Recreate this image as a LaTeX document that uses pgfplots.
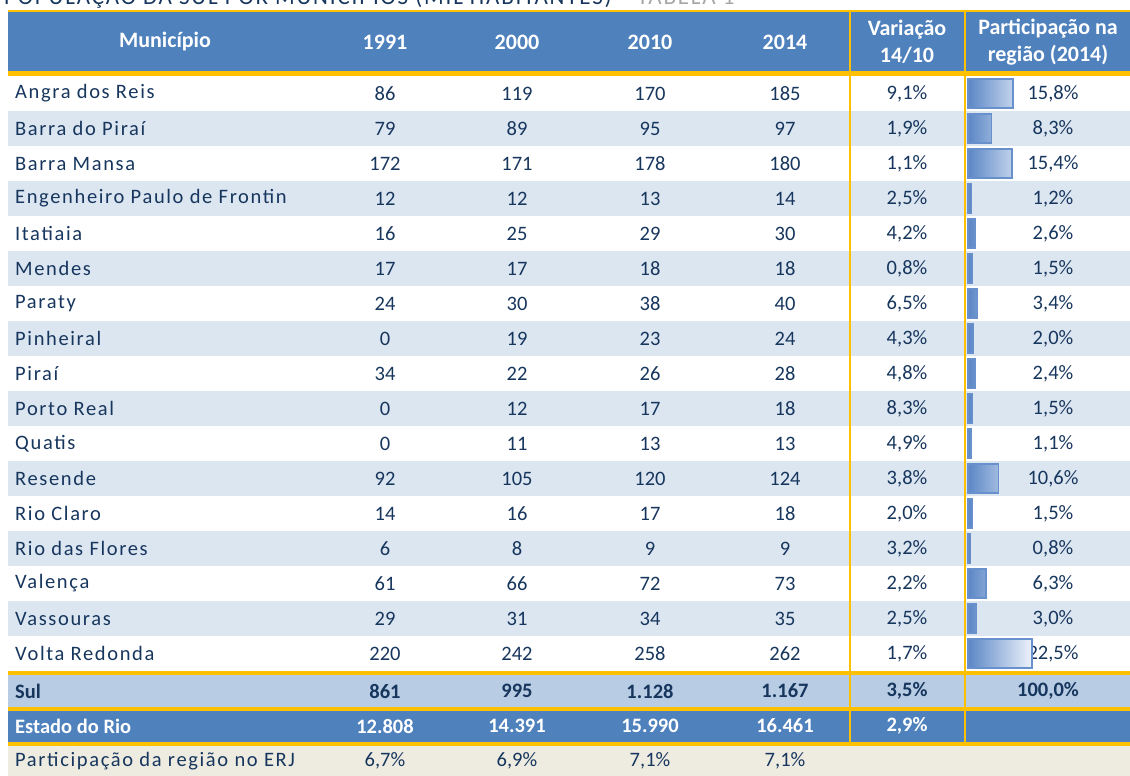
\documentclass[border=0pt]{standalone}
\usepackage{pgfplots}
\usepackage{pgfplotstable}
\usepackage{fontspec}
\pgfplotsset{compat=1.18}
\setmainfont{Carlito}
\newfontfamily\spaced[LetterSpace=8]{Carlito}

\definecolor{hdr}{HTML}{4F81BD}
\definecolor{gold}{HTML}{FFC000}
\definecolor{band}{HTML}{DCE6F1}
\definecolor{sul}{HTML}{B8CCE4}
\definecolor{beige}{HTML}{EEECE1}
\definecolor{navy}{HTML}{17365D}
\definecolor{barb}{HTML}{6890CC}
\definecolor{barl}{HTML}{5B87C6}
\definecolor{barr}{HTML}{EEF3FA}

\newcommand\corpo{\fontsize{20.5}{24}\selectfont}
\newcommand\cabec{\fontsize{22}{27}\selectfont\bfseries}

% populacao em mil habitantes, variacao 14/10 e participacao (%)
\pgfplotstableread[col sep=semicolon]{
nome;a91;a00;a10;a14;var;part
Angra dos Reis;86;119;170;185;9.1;15.8
Barra do Piraí;79;89;95;97;1.9;8.3
Barra Mansa;172;171;178;180;1.1;15.4
Engenheiro Paulo de Frontin;12;12;13;14;2.5;1.2
Itatiaia;16;25;29;30;4.2;2.6
Mendes;17;17;18;18;0.8;1.5
Paraty;24;30;38;40;6.5;3.4
Pinheiral;0;19;23;24;4.3;2.0
Piraí;34;22;26;28;4.8;2.4
Porto Real;0;12;17;18;8.3;1.5
Quatis;0;11;13;13;4.9;1.1
Resende;92;105;120;124;3.8;10.6
Rio Claro;14;16;17;18;2.0;1.5
Rio das Flores;6;8;9;9;3.2;0.8
Valença;61;66;72;73;2.2;6.3
Vassouras;29;31;34;35;2.5;3.0
Volta Redonda;220;242;258;262;1.7;22.5
}\munic

\pgfplotstableread[col sep=semicolon]{
nome;a91;a00;a10;a14;var
Sul;861;995;1128;1167;3.5
}\sul

\pgfplotstableread[col sep=semicolon]{
nome;a91;a00;a10;a14;var
Estado do Rio;12808;14391;15990;16461;2.9
}\estado

\pgfplotstableread[col sep=semicolon]{
nome;a91;a00;a10;a14
Participação da região no ERJ;6.7;6.9;7.1;7.1
}\partic

\pgfkeys{/pgf/number format/.cd, use comma, 1000 sep={.}, assume math mode=true}

\pgfplotsset{
  txt/.style={draw=none, mark=none, nodes near coords, point meta=explicit,
    nodes near coords align={anchor=center},
    every node near coord/.append style={text=navy, inner sep=0pt, font=\corpo}},
  nomes/.style={txt, point meta=explicit symbolic, nodes near coords align={anchor=west},
    every node near coord/.append style={font=\corpo\spaced}},
  pct/.style={txt, nodes near coords={\pgfmathprintnumber[fixed,fixed zerofill,precision=1]{\pgfplotspointmeta}\%}},
  negrito/.style={every node near coord/.append style={font=\corpo\bfseries}},
  branco/.style={every node near coord/.append style={text=white}},
}

% coluna de texto: tabela, coluna, x, y da primeira linha, estilo
\newcommand\coluna[5]{%
  \addplot[#5] table[x expr=#3, y expr=#4+35*\coordindex, meta=#2] {#1};}

\begin{document}
\begin{tikzpicture}
\begin{axis}[
    width=1130pt, height=776pt, scale only axis,
    xmin=0, xmax=1130, ymin=0, ymax=776, y dir=reverse,
    hide axis,
]
  % fundos
  \fill[hdr] (axis cs:8,12) rectangle (axis cs:1130,72);
  \pgfplotsinvokeforeach{1,3,...,15}{
    \fill[band] (axis cs:8,{76+35*#1}) rectangle (axis cs:1130,{111+35*#1});
  }
  \fill[sul] (axis cs:8,673) rectangle (axis cs:1130,709);
  \fill[hdr] (axis cs:8,709) rectangle (axis cs:1130,743);
  \fill[beige] (axis cs:8,743) rectangle (axis cs:1130,776);

  % linhas laranja
  \draw[gold, line width=2.5pt] (axis cs:850,10) -- (axis cs:850,745);
  \draw[gold, line width=2.5pt] (axis cs:965,10) -- (axis cs:965,745);
  \draw[gold, line width=2.5pt] (axis cs:8,11) -- (axis cs:1130,11);
  \draw[gold, line width=5.5pt] (axis cs:8,73.5) -- (axis cs:1130,73.5);
  \draw[gold, line width=4pt] (axis cs:8,673) -- (axis cs:1130,673);
  \draw[gold, line width=4pt] (axis cs:8,709) -- (axis cs:1130,709);
  \draw[gold, line width=4pt] (axis cs:8,743.5) -- (axis cs:1130,743.5);

  % titulo (cortado no topo, como no original) e cabecalho
  \node[anchor=base west, inner sep=0pt, text=navy] at (axis cs:4,5)
    {\fontsize{23}{26}\selectfont\spaced POPULAÇÃO DA SUL POR MUNICÍPIOS (MIL HABITANTES) \textcolor{gray!70}{–\ TABELA 1}};
  \begin{scope}[every node/.style={text=white, font=\cabec, align=center, inner sep=0pt}]
    \node at (axis cs:165,42) {Município};
    \node at (axis cs:385,42) {1991};
    \node at (axis cs:517,42) {2000};
    \node at (axis cs:650,42) {2010};
    \node at (axis cs:785,42) {2014};
    \node at (axis cs:907,42) {Variação\\14/10};
    \node at (axis cs:1048,42) {Participação na\\região (2014)};
  \end{scope}

  % municipios
  \coluna{\munic}{nome}{15}{93.5}{nomes}
  \coluna{\munic}{a91}{385}{93.5}{txt}
  \coluna{\munic}{a00}{517}{93.5}{txt}
  \coluna{\munic}{a10}{650}{93.5}{txt}
  \coluna{\munic}{a14}{785}{93.5}{txt}
  \coluna{\munic}{var}{907}{93.5}{pct}
  \coluna{\munic}{part}{1053}{93.5}{pct}

  % Sul
  \coluna{\sul}{nome}{15}{691}{nomes, negrito}
  \coluna{\sul}{a91}{385}{691}{txt, negrito}
  \coluna{\sul}{a00}{517}{691}{txt, negrito}
  \coluna{\sul}{a10}{650}{691}{txt, negrito}
  \coluna{\sul}{a14}{785}{691}{txt, negrito}
  \coluna{\sul}{var}{907}{691}{pct, negrito}
  \addplot[pct, negrito] coordinates {(1048,691) [100]};

  % Estado do Rio
  \coluna{\estado}{nome}{15}{726}{nomes, negrito, branco}
  \coluna{\estado}{a91}{385}{726}{txt, negrito, branco}
  \coluna{\estado}{a00}{517}{726}{txt, negrito, branco}
  \coluna{\estado}{a10}{650}{726}{txt, negrito, branco}
  \coluna{\estado}{a14}{785}{726}{txt, negrito, branco}
  \coluna{\estado}{var}{907}{726}{pct, negrito, branco}

  % participacao no ERJ
  \coluna{\partic}{nome}{15}{761}{nomes}
  \coluna{\partic}{a91}{385}{761}{pct}
  \coluna{\partic}{a00}{517}{761}{pct}
  \coluna{\partic}{a10}{650}{761}{pct}
  \coluna{\partic}{a14}{785}{761}{pct}
\end{axis}

% barras de participacao
\begin{axis}[
    at={(968pt,700pt)}, anchor=north west,
    width=285pt, height=595pt, scale only axis,
    xmin=0, xmax=100, ymin=0.5, ymax=17.5, y dir=reverse,
    hide axis, clip=false,
]
  \addplot[xbar, bar width=29pt, draw=barb, line width=1.3pt, left color=barl, right color=barr]
    table[x=part, y expr=\coordindex+1] {\munic};
\end{axis}
\pgfresetboundingbox
\path (0,0) rectangle (1130pt,776pt);
\end{tikzpicture}
\end{document}
